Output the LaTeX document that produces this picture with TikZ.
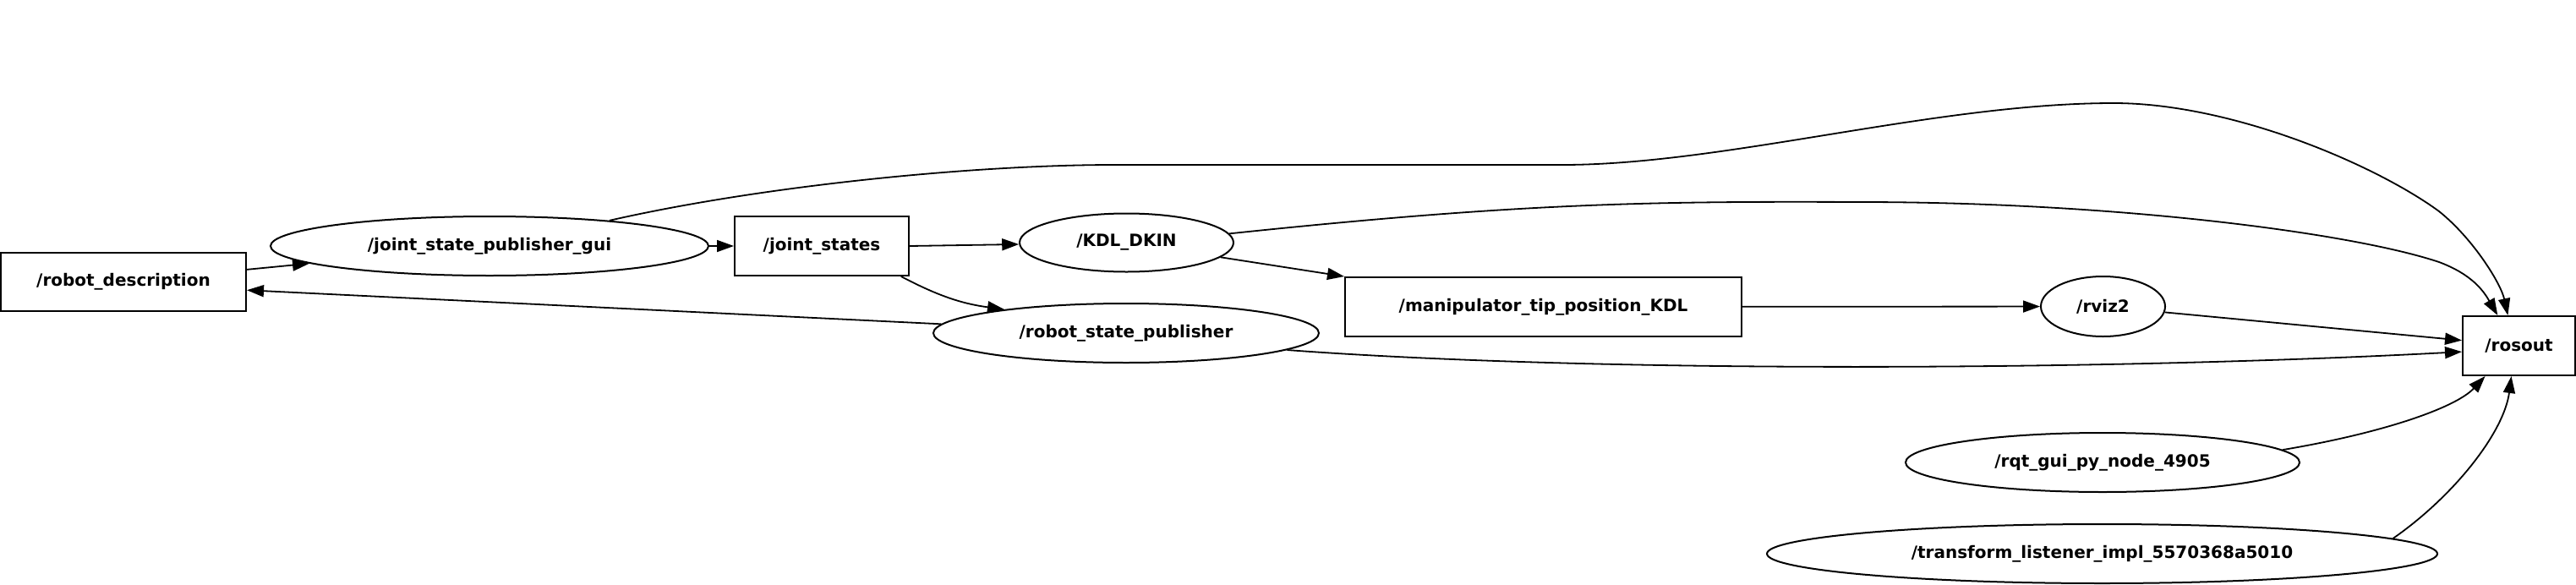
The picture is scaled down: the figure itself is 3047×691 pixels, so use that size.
\documentclass[tikz,border=0pt]{standalone}
\usepackage{fontspec}
\setmainfont{DejaVu Sans}
\usetikzlibrary{shapes.geometric, arrows.meta, positioning}

\begin{document}
\begin{tikzpicture}[x=0.5pt, y=-0.5pt,
        topic/.style={draw, rectangle, line width=1pt, inner sep=0pt, font=\fontsize{10}{12}\selectfont\bfseries},
        rosnode/.style={draw, ellipse, line width=1pt, inner sep=0pt, font=\fontsize{10}{12}\selectfont\bfseries},
        edge/.style={-{Triangle[length=10pt, width=7pt]}, line width=0.9pt}]
        \useasboundingbox (0,0) rectangle (3047,691);

        % Nodes
        \node (rd) [topic, minimum width=145pt, minimum height=34.5pt] at (146,333) {/robot\_description};
        \node (jsp) [rosnode, minimum width=259pt, minimum height=35pt] at (579,291) {/joint\_state\_publisher\_gui};
        \node (js) [topic, minimum width=103pt, minimum height=35pt] at (972,291) {/joint\_states};
        \node (kdl) [rosnode, minimum width=126.5pt, minimum height=34.5pt] at (1332.5,287) {/KDL\_DKIN};
        \node (rsp) [rosnode, minimum width=228pt, minimum height=35pt] at (1332,394) {/robot\_state\_publisher};
        \node (mtp) [topic, minimum width=234.5pt, minimum height=35pt] at (1825.5,363) {/manipulator\_tip\_position\_KDL};
        \node (rviz) [rosnode, minimum width=73.5pt, minimum height=35.5pt] at (2487.5,362.5) {/rviz2};
        \node (rosout) [topic, minimum width=66.5pt, minimum height=35pt] at (2979.5,409) {/rosout};
        \node (rqt) [rosnode, minimum width=233pt, minimum height=35pt] at (2487,547) {/rqt\_gui\_py\_node\_4905};
        \node (tl) [rosnode, minimum width=396.5pt, minimum height=35pt] at (2486.5,655) {/transform\_listener\_impl\_5570368a5010};

        % Arrows
        \draw[edge] (rd) -- (jsp);
        \draw[edge] (jsp) -- (js);
        \draw[edge] (js.east) -- (kdl);
        \draw[edge] (kdl) -- (mtp.north west);
        \draw[edge] (js.-21) to[bend right=10] (rsp.169);
        \draw[edge] (rsp) -- (rd.-4);
        \draw[edge] (mtp) -- (rviz);
        \draw[edge] (rviz) -- (rosout);

        \draw[edge] (jsp.12) .. controls (900,220) and (1150,195) .. (1318,195) -- (1848,195)
            .. controls (2040,195) and (2290,122) .. (2500,122)
            .. controls (2640,122) and (2810,195) .. (2885,250)
            .. controls (2925,282) and (2958,335) .. (rosout.110);
        \draw[edge] (kdl.5) .. controls (1800,240) and (1950,238) .. (2200,239)
            .. controls (2500,239) and (2780,275) .. (2885,310)
            .. controls (2925,325) and (2938,345) .. (rosout.125);
        \draw[edge] (rsp.-6) .. controls (1900,442) and (2500,438) .. (rosout.-174);
        \draw[edge] (rqt.4) .. controls (2820,512) and (2905,482) .. (rosout.-138);
        \draw[edge] (tl.3.5) .. controls (2905,585) and (2962,510) .. (rosout.-104);

    \end{tikzpicture}
\end{document}
